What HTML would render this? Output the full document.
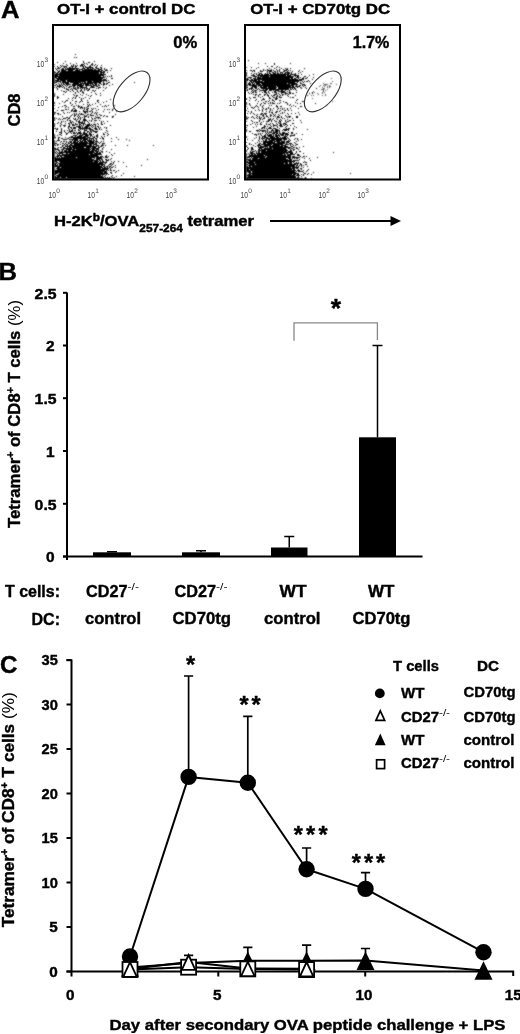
<!DOCTYPE html>
<html><head><meta charset="utf-8"><style>
html,body{margin:0;padding:0;background:#fff;width:520px;height:1034px;overflow:hidden;position:relative}
svg{filter:grayscale(100%)}
svg text{stroke:#000;stroke-width:0.4px}
svg text[font-weight=normal],svg tspan[font-weight=normal]{stroke:none}
</style></head><body>
<svg width="520" height="1034" viewBox="0 0 520 1034" style="position:absolute;left:0;top:0;font-family:&quot;Liberation Sans&quot;, sans-serif;font-weight:bold">
<defs><filter id="bl" x="-5%" y="-5%" width="110%" height="110%"><feConvolveMatrix order="3" kernelMatrix="1 2 1 2 8 2 1 2 1" divisor="20" edgeMode="none"/></filter></defs>
<text x="1" y="18" font-size="24" textLength="18.5" lengthAdjust="spacingAndGlyphs">A</text>
<text x="57" y="13.5" font-size="14" textLength="138.5" lengthAdjust="spacingAndGlyphs">OT-I + control DC</text>
<text x="250.2" y="13.5" font-size="14" textLength="140" lengthAdjust="spacingAndGlyphs">OT-I + CD70tg DC</text>
<path d="M75 54h1v1h-1zM74 57h1v1h-1zM76 57h1v1h-1zM65 61h1v1h-1zM83 61h1v1h-1zM94 61h1v1h-1zM57 62h1v1h-1zM83 62h1v1h-1zM88 62h2v1h-2zM63 63h1v1h-1zM70 63h1v1h-1zM76 63h1v1h-1zM84 63h1v1h-1zM86 63h1v1h-1zM92 63h1v1h-1zM54 64h1v1h-1zM66 64h1v1h-1zM73 64h1v1h-1zM81 64h3v1h-3zM87 64h1v1h-1zM91 64h2v1h-2zM95 64h1v1h-1zM60 65h1v1h-1zM62 65h1v1h-1zM67 65h1v1h-1zM71 65h1v1h-1zM73 65h1v1h-1zM75 65h1v1h-1zM77 65h1v1h-1zM80 65h3v1h-3zM84 65h1v1h-1zM90 65h1v1h-1zM92 65h1v1h-1zM94 65h1v1h-1zM97 65h1v1h-1zM101 65h1v1h-1zM54 66h1v1h-1zM57 66h1v1h-1zM61 66h1v1h-1zM63 66h4v1h-4zM71 66h3v1h-3zM75 66h2v1h-2zM80 66h1v1h-1zM82 66h2v1h-2zM85 66h1v1h-1zM89 66h2v1h-2zM96 66h1v1h-1zM58 67h1v1h-1zM60 67h1v1h-1zM64 67h1v1h-1zM66 67h1v1h-1zM69 67h2v1h-2zM72 67h1v1h-1zM75 67h1v1h-1zM83 67h1v1h-1zM85 67h8v1h-8zM95 67h2v1h-2zM100 67h2v1h-2zM55 68h1v1h-1zM57 68h3v1h-3zM62 68h2v1h-2zM65 68h1v1h-1zM67 68h12v1h-12zM82 68h3v1h-3zM87 68h2v1h-2zM90 68h1v1h-1zM92 68h2v1h-2zM96 68h3v1h-3zM101 68h1v1h-1zM104 68h1v1h-1zM111 68h1v1h-1zM56 69h1v1h-1zM61 69h3v1h-3zM65 69h10v1h-10zM76 69h2v1h-2zM79 69h4v1h-4zM84 69h9v1h-9zM94 69h2v1h-2zM98 69h4v1h-4zM104 69h1v1h-1zM106 69h1v1h-1zM57 70h1v1h-1zM59 70h1v1h-1zM61 70h5v1h-5zM68 70h5v1h-5zM75 70h5v1h-5zM82 70h18v1h-18zM101 70h2v1h-2zM105 70h3v1h-3zM110 70h1v1h-1zM54 71h1v1h-1zM58 71h2v1h-2zM61 71h41v1h-41zM103 71h2v1h-2zM54 72h2v1h-2zM57 72h2v1h-2zM60 72h39v1h-39zM100 72h5v1h-5zM107 72h1v1h-1zM54 73h1v1h-1zM56 73h2v1h-2zM59 73h40v1h-40zM100 73h2v1h-2zM103 73h1v1h-1zM54 74h52v1h-52zM54 75h4v1h-4zM59 75h45v1h-45zM111 75h1v1h-1zM54 76h47v1h-47zM103 76h1v1h-1zM105 76h1v1h-1zM107 76h1v1h-1zM109 76h1v1h-1zM111 76h1v1h-1zM54 77h3v1h-3zM58 77h47v1h-47zM54 78h1v1h-1zM56 78h47v1h-47zM106 78h1v1h-1zM111 78h2v1h-2zM54 79h1v1h-1zM57 79h45v1h-45zM103 79h3v1h-3zM54 80h5v1h-5zM60 80h6v1h-6zM67 80h40v1h-40zM108 80h1v1h-1zM54 81h1v1h-1zM56 81h5v1h-5zM62 81h4v1h-4zM67 81h19v1h-19zM87 81h5v1h-5zM93 81h9v1h-9zM103 81h1v1h-1zM106 81h1v1h-1zM54 82h3v1h-3zM60 82h1v1h-1zM62 82h7v1h-7zM70 82h11v1h-11zM82 82h1v1h-1zM84 82h2v1h-2zM87 82h14v1h-14zM103 82h1v1h-1zM108 82h2v1h-2zM134 82h1v1h-1zM54 83h1v1h-1zM58 83h1v1h-1zM61 83h1v1h-1zM63 83h1v1h-1zM65 83h4v1h-4zM73 83h6v1h-6zM80 83h13v1h-13zM94 83h3v1h-3zM99 83h2v1h-2zM103 83h2v1h-2zM106 83h2v1h-2zM56 84h1v1h-1zM59 84h1v1h-1zM61 84h1v1h-1zM63 84h2v1h-2zM66 84h5v1h-5zM72 84h10v1h-10zM83 84h1v1h-1zM85 84h4v1h-4zM90 84h1v1h-1zM92 84h2v1h-2zM95 84h2v1h-2zM98 84h1v1h-1zM101 84h1v1h-1zM103 84h2v1h-2zM106 84h1v1h-1zM112 84h1v1h-1zM54 85h2v1h-2zM57 85h1v1h-1zM59 85h2v1h-2zM62 85h1v1h-1zM65 85h1v1h-1zM67 85h1v1h-1zM72 85h4v1h-4zM77 85h7v1h-7zM85 85h7v1h-7zM93 85h4v1h-4zM98 85h2v1h-2zM103 85h1v1h-1zM109 85h1v1h-1zM57 86h5v1h-5zM63 86h1v1h-1zM66 86h1v1h-1zM69 86h3v1h-3zM73 86h2v1h-2zM77 86h1v1h-1zM79 86h4v1h-4zM86 86h1v1h-1zM91 86h3v1h-3zM96 86h2v1h-2zM54 87h1v1h-1zM56 87h1v1h-1zM59 87h1v1h-1zM62 87h1v1h-1zM64 87h1v1h-1zM68 87h2v1h-2zM73 87h1v1h-1zM75 87h1v1h-1zM77 87h2v1h-2zM80 87h7v1h-7zM90 87h5v1h-5zM98 87h3v1h-3zM103 87h1v1h-1zM106 87h1v1h-1zM57 88h1v1h-1zM64 88h1v1h-1zM66 88h1v1h-1zM71 88h1v1h-1zM73 88h3v1h-3zM77 88h2v1h-2zM80 88h1v1h-1zM82 88h1v1h-1zM84 88h1v1h-1zM86 88h2v1h-2zM89 88h1v1h-1zM96 88h1v1h-1zM98 88h1v1h-1zM105 88h1v1h-1zM57 89h1v1h-1zM66 89h3v1h-3zM70 89h1v1h-1zM72 89h1v1h-1zM75 89h2v1h-2zM81 89h1v1h-1zM84 89h1v1h-1zM86 89h1v1h-1zM88 89h2v1h-2zM61 90h1v1h-1zM68 90h1v1h-1zM72 90h1v1h-1zM77 90h1v1h-1zM80 90h2v1h-2zM84 90h1v1h-1zM87 90h2v1h-2zM92 90h2v1h-2zM95 90h1v1h-1zM103 90h1v1h-1zM63 91h2v1h-2zM66 91h1v1h-1zM70 91h1v1h-1zM73 91h1v1h-1zM77 91h1v1h-1zM80 91h1v1h-1zM82 91h1v1h-1zM94 91h1v1h-1zM65 92h1v1h-1zM75 92h1v1h-1zM78 92h1v1h-1zM82 92h2v1h-2zM91 92h1v1h-1zM54 93h1v1h-1zM75 93h1v1h-1zM83 93h1v1h-1zM95 93h1v1h-1zM100 93h1v1h-1zM54 94h1v1h-1zM63 94h1v1h-1zM73 94h1v1h-1zM80 94h1v1h-1zM86 94h1v1h-1zM96 94h1v1h-1zM54 95h1v1h-1zM74 95h1v1h-1zM76 95h2v1h-2zM82 95h1v1h-1zM88 95h1v1h-1zM91 95h1v1h-1zM100 95h1v1h-1zM54 96h1v1h-1zM57 96h1v1h-1zM76 96h1v1h-1zM90 96h1v1h-1zM57 97h2v1h-2zM73 97h1v1h-1zM75 97h1v1h-1zM79 97h1v1h-1zM85 97h1v1h-1zM57 98h1v1h-1zM68 98h1v1h-1zM72 98h1v1h-1zM75 98h1v1h-1zM81 98h1v1h-1zM83 98h1v1h-1zM89 98h1v1h-1zM81 99h1v1h-1zM110 99h1v1h-1zM66 100h2v1h-2zM72 100h1v1h-1zM81 100h1v1h-1zM87 100h1v1h-1zM97 100h2v1h-2zM62 101h1v1h-1zM65 101h1v1h-1zM75 101h2v1h-2zM80 101h1v1h-1zM82 101h1v1h-1zM97 101h1v1h-1zM106 101h1v1h-1zM54 102h1v1h-1zM64 102h1v1h-1zM70 102h1v1h-1zM79 102h1v1h-1zM87 102h2v1h-2zM98 102h1v1h-1zM103 102h1v1h-1zM54 103h1v1h-1zM59 103h1v1h-1zM70 103h1v1h-1zM75 103h1v1h-1zM95 103h1v1h-1zM72 104h1v1h-1zM83 104h1v1h-1zM87 104h1v1h-1zM89 104h1v1h-1zM92 104h1v1h-1zM100 104h1v1h-1zM54 105h1v1h-1zM64 105h2v1h-2zM71 105h1v1h-1zM76 105h1v1h-1zM78 105h1v1h-1zM88 105h1v1h-1zM90 105h1v1h-1zM105 105h1v1h-1zM108 105h1v1h-1zM114 105h1v1h-1zM62 106h1v1h-1zM66 106h1v1h-1zM73 106h2v1h-2zM78 106h2v1h-2zM81 106h1v1h-1zM87 106h2v1h-2zM97 106h1v1h-1zM102 106h1v1h-1zM104 106h1v1h-1zM106 106h1v1h-1zM58 107h1v1h-1zM65 107h1v1h-1zM68 107h1v1h-1zM78 107h1v1h-1zM80 107h3v1h-3zM84 107h1v1h-1zM86 107h1v1h-1zM54 108h1v1h-1zM73 108h2v1h-2zM80 108h1v1h-1zM82 108h1v1h-1zM84 108h1v1h-1zM87 108h2v1h-2zM91 108h1v1h-1zM93 108h1v1h-1zM95 108h1v1h-1zM113 108h1v1h-1zM65 109h2v1h-2zM68 109h1v1h-1zM72 109h1v1h-1zM75 109h1v1h-1zM84 109h1v1h-1zM86 109h2v1h-2zM92 109h1v1h-1zM98 109h1v1h-1zM104 109h1v1h-1zM107 109h1v1h-1zM109 109h1v1h-1zM112 109h1v1h-1zM57 110h1v1h-1zM61 110h3v1h-3zM71 110h2v1h-2zM74 110h3v1h-3zM83 110h1v1h-1zM87 110h1v1h-1zM91 110h1v1h-1zM96 110h1v1h-1zM112 110h1v1h-1zM71 111h1v1h-1zM73 111h4v1h-4zM79 111h1v1h-1zM83 111h5v1h-5zM89 111h2v1h-2zM92 111h1v1h-1zM103 111h1v1h-1zM116 111h1v1h-1zM54 112h2v1h-2zM63 112h1v1h-1zM67 112h1v1h-1zM69 112h1v1h-1zM84 112h2v1h-2zM87 112h1v1h-1zM92 112h1v1h-1zM95 112h1v1h-1zM97 112h1v1h-1zM109 112h1v1h-1zM54 113h1v1h-1zM57 113h2v1h-2zM64 113h1v1h-1zM74 113h1v1h-1zM76 113h1v1h-1zM79 113h1v1h-1zM81 113h1v1h-1zM85 113h1v1h-1zM91 113h1v1h-1zM94 113h1v1h-1zM96 113h1v1h-1zM54 114h1v1h-1zM58 114h1v1h-1zM60 114h1v1h-1zM72 114h1v1h-1zM74 114h1v1h-1zM76 114h1v1h-1zM78 114h1v1h-1zM80 114h4v1h-4zM87 114h2v1h-2zM90 114h1v1h-1zM96 114h1v1h-1zM99 114h1v1h-1zM115 114h1v1h-1zM71 115h1v1h-1zM74 115h2v1h-2zM78 115h1v1h-1zM84 115h1v1h-1zM86 115h1v1h-1zM90 115h4v1h-4zM97 115h1v1h-1zM100 115h2v1h-2zM104 115h1v1h-1zM62 116h1v1h-1zM70 116h1v1h-1zM74 116h1v1h-1zM77 116h1v1h-1zM79 116h1v1h-1zM84 116h3v1h-3zM88 116h1v1h-1zM95 116h1v1h-1zM103 116h1v1h-1zM106 116h2v1h-2zM112 116h2v1h-2zM54 117h1v1h-1zM66 117h2v1h-2zM69 117h1v1h-1zM78 117h1v1h-1zM80 117h1v1h-1zM82 117h1v1h-1zM84 117h1v1h-1zM88 117h1v1h-1zM91 117h1v1h-1zM96 117h4v1h-4zM112 117h1v1h-1zM54 118h1v1h-1zM56 118h1v1h-1zM59 118h1v1h-1zM63 118h3v1h-3zM68 118h2v1h-2zM73 118h1v1h-1zM75 118h1v1h-1zM78 118h1v1h-1zM80 118h1v1h-1zM84 118h1v1h-1zM92 118h1v1h-1zM94 118h2v1h-2zM98 118h1v1h-1zM100 118h1v1h-1zM54 119h1v1h-1zM58 119h1v1h-1zM60 119h1v1h-1zM62 119h1v1h-1zM67 119h1v1h-1zM74 119h2v1h-2zM77 119h1v1h-1zM80 119h1v1h-1zM83 119h3v1h-3zM92 119h1v1h-1zM54 120h1v1h-1zM67 120h1v1h-1zM69 120h2v1h-2zM76 120h1v1h-1zM79 120h1v1h-1zM83 120h4v1h-4zM89 120h1v1h-1zM91 120h1v1h-1zM94 120h3v1h-3zM99 120h1v1h-1zM61 121h1v1h-1zM63 121h1v1h-1zM65 121h1v1h-1zM70 121h1v1h-1zM72 121h1v1h-1zM76 121h1v1h-1zM78 121h2v1h-2zM82 121h1v1h-1zM84 121h1v1h-1zM87 121h1v1h-1zM91 121h1v1h-1zM101 121h1v1h-1zM103 121h1v1h-1zM107 121h1v1h-1zM58 122h1v1h-1zM61 122h1v1h-1zM70 122h2v1h-2zM73 122h1v1h-1zM78 122h5v1h-5zM84 122h1v1h-1zM88 122h1v1h-1zM94 122h1v1h-1zM101 122h1v1h-1zM54 123h1v1h-1zM57 123h1v1h-1zM60 123h1v1h-1zM65 123h1v1h-1zM68 123h2v1h-2zM71 123h1v1h-1zM75 123h1v1h-1zM79 123h1v1h-1zM81 123h4v1h-4zM89 123h1v1h-1zM97 123h1v1h-1zM101 123h1v1h-1zM104 123h1v1h-1zM54 124h1v1h-1zM61 124h1v1h-1zM69 124h1v1h-1zM72 124h2v1h-2zM75 124h3v1h-3zM79 124h2v1h-2zM83 124h1v1h-1zM85 124h1v1h-1zM87 124h3v1h-3zM91 124h1v1h-1zM93 124h3v1h-3zM98 124h1v1h-1zM101 124h2v1h-2zM54 125h1v1h-1zM60 125h1v1h-1zM63 125h3v1h-3zM69 125h1v1h-1zM72 125h3v1h-3zM79 125h1v1h-1zM81 125h1v1h-1zM83 125h1v1h-1zM86 125h5v1h-5zM92 125h1v1h-1zM95 125h1v1h-1zM110 125h1v1h-1zM54 126h1v1h-1zM60 126h1v1h-1zM64 126h1v1h-1zM68 126h2v1h-2zM76 126h5v1h-5zM82 126h1v1h-1zM85 126h4v1h-4zM91 126h1v1h-1zM93 126h1v1h-1zM95 126h1v1h-1zM97 126h2v1h-2zM68 127h1v1h-1zM70 127h2v1h-2zM73 127h3v1h-3zM78 127h3v1h-3zM82 127h1v1h-1zM84 127h4v1h-4zM89 127h1v1h-1zM92 127h1v1h-1zM95 127h1v1h-1zM98 127h1v1h-1zM100 127h1v1h-1zM104 127h1v1h-1zM106 127h1v1h-1zM54 128h2v1h-2zM57 128h1v1h-1zM61 128h1v1h-1zM68 128h1v1h-1zM71 128h1v1h-1zM73 128h3v1h-3zM79 128h12v1h-12zM94 128h3v1h-3zM99 128h1v1h-1zM106 128h1v1h-1zM56 129h2v1h-2zM61 129h1v1h-1zM69 129h1v1h-1zM72 129h1v1h-1zM78 129h1v1h-1zM80 129h1v1h-1zM82 129h1v1h-1zM84 129h1v1h-1zM86 129h1v1h-1zM89 129h4v1h-4zM95 129h3v1h-3zM99 129h1v1h-1zM101 129h1v1h-1zM61 130h1v1h-1zM64 130h1v1h-1zM67 130h1v1h-1zM69 130h1v1h-1zM71 130h2v1h-2zM74 130h2v1h-2zM78 130h2v1h-2zM84 130h3v1h-3zM90 130h1v1h-1zM92 130h2v1h-2zM106 130h1v1h-1zM56 131h1v1h-1zM61 131h1v1h-1zM64 131h1v1h-1zM69 131h4v1h-4zM80 131h1v1h-1zM84 131h1v1h-1zM87 131h2v1h-2zM90 131h2v1h-2zM93 131h5v1h-5zM107 131h1v1h-1zM59 132h3v1h-3zM65 132h1v1h-1zM68 132h1v1h-1zM70 132h1v1h-1zM73 132h2v1h-2zM76 132h1v1h-1zM78 132h3v1h-3zM83 132h2v1h-2zM87 132h1v1h-1zM89 132h1v1h-1zM91 132h1v1h-1zM95 132h2v1h-2zM105 132h1v1h-1zM61 133h1v1h-1zM66 133h2v1h-2zM71 133h1v1h-1zM73 133h3v1h-3zM77 133h5v1h-5zM83 133h4v1h-4zM89 133h2v1h-2zM103 133h1v1h-1zM107 133h1v1h-1zM54 134h1v1h-1zM59 134h2v1h-2zM66 134h1v1h-1zM77 134h1v1h-1zM80 134h1v1h-1zM82 134h6v1h-6zM89 134h3v1h-3zM93 134h1v1h-1zM97 134h1v1h-1zM103 134h2v1h-2zM108 134h1v1h-1zM54 135h1v1h-1zM57 135h1v1h-1zM61 135h1v1h-1zM73 135h4v1h-4zM79 135h4v1h-4zM85 135h4v1h-4zM90 135h2v1h-2zM96 135h2v1h-2zM107 135h1v1h-1zM54 136h1v1h-1zM71 136h2v1h-2zM75 136h1v1h-1zM77 136h5v1h-5zM83 136h5v1h-5zM90 136h1v1h-1zM92 136h1v1h-1zM94 136h1v1h-1zM96 136h2v1h-2zM101 136h1v1h-1zM104 136h1v1h-1zM54 137h2v1h-2zM58 137h2v1h-2zM65 137h1v1h-1zM69 137h17v1h-17zM87 137h3v1h-3zM93 137h2v1h-2zM97 137h1v1h-1zM102 137h1v1h-1zM116 137h1v1h-1zM54 138h1v1h-1zM58 138h1v1h-1zM61 138h2v1h-2zM67 138h2v1h-2zM73 138h15v1h-15zM89 138h5v1h-5zM95 138h2v1h-2zM100 138h1v1h-1zM102 138h2v1h-2zM111 138h1v1h-1zM58 139h1v1h-1zM63 139h4v1h-4zM69 139h9v1h-9zM80 139h2v1h-2zM83 139h5v1h-5zM89 139h1v1h-1zM91 139h1v1h-1zM93 139h1v1h-1zM96 139h1v1h-1zM103 139h1v1h-1zM118 139h1v1h-1zM126 139h1v1h-1zM54 140h1v1h-1zM57 140h3v1h-3zM72 140h1v1h-1zM74 140h4v1h-4zM79 140h2v1h-2zM82 140h4v1h-4zM87 140h5v1h-5zM93 140h2v1h-2zM96 140h1v1h-1zM129 140h1v1h-1zM54 141h1v1h-1zM56 141h1v1h-1zM61 141h1v1h-1zM63 141h2v1h-2zM66 141h1v1h-1zM69 141h3v1h-3zM73 141h3v1h-3zM77 141h2v1h-2zM80 141h3v1h-3zM84 141h3v1h-3zM88 141h6v1h-6zM95 141h3v1h-3zM101 141h1v1h-1zM103 141h1v1h-1zM111 141h1v1h-1zM54 142h1v1h-1zM60 142h1v1h-1zM66 142h1v1h-1zM68 142h1v1h-1zM70 142h2v1h-2zM73 142h5v1h-5zM79 142h9v1h-9zM89 142h6v1h-6zM96 142h1v1h-1zM98 142h1v1h-1zM100 142h1v1h-1zM54 143h3v1h-3zM62 143h2v1h-2zM65 143h1v1h-1zM68 143h2v1h-2zM71 143h23v1h-23zM95 143h2v1h-2zM99 143h1v1h-1zM102 143h3v1h-3zM54 144h1v1h-1zM57 144h2v1h-2zM60 144h1v1h-1zM64 144h1v1h-1zM66 144h2v1h-2zM70 144h2v1h-2zM74 144h13v1h-13zM89 144h3v1h-3zM93 144h4v1h-4zM102 144h1v1h-1zM54 145h2v1h-2zM57 145h1v1h-1zM62 145h2v1h-2zM65 145h1v1h-1zM67 145h1v1h-1zM69 145h23v1h-23zM93 145h1v1h-1zM96 145h3v1h-3zM101 145h3v1h-3zM105 145h1v1h-1zM115 145h1v1h-1zM127 145h1v1h-1zM153 145h1v1h-1zM62 146h1v1h-1zM65 146h6v1h-6zM72 146h25v1h-25zM98 146h1v1h-1zM100 146h2v1h-2zM54 147h1v1h-1zM58 147h1v1h-1zM60 147h2v1h-2zM63 147h2v1h-2zM67 147h1v1h-1zM69 147h15v1h-15zM86 147h5v1h-5zM92 147h4v1h-4zM98 147h2v1h-2zM103 147h1v1h-1zM54 148h2v1h-2zM57 148h1v1h-1zM63 148h9v1h-9zM73 148h17v1h-17zM91 148h8v1h-8zM102 148h1v1h-1zM54 149h5v1h-5zM61 149h3v1h-3zM66 149h9v1h-9zM76 149h15v1h-15zM92 149h3v1h-3zM96 149h3v1h-3zM102 149h1v1h-1zM111 149h1v1h-1zM54 150h1v1h-1zM58 150h2v1h-2zM62 150h1v1h-1zM64 150h3v1h-3zM68 150h3v1h-3zM72 150h18v1h-18zM91 150h6v1h-6zM98 150h1v1h-1zM100 150h1v1h-1zM54 151h1v1h-1zM56 151h1v1h-1zM59 151h1v1h-1zM61 151h2v1h-2zM64 151h30v1h-30zM95 151h4v1h-4zM101 151h2v1h-2zM106 151h1v1h-1zM54 152h2v1h-2zM57 152h1v1h-1zM59 152h36v1h-36zM96 152h2v1h-2zM99 152h2v1h-2zM102 152h1v1h-1zM109 152h1v1h-1zM54 153h1v1h-1zM56 153h1v1h-1zM58 153h5v1h-5zM66 153h2v1h-2zM69 153h24v1h-24zM94 153h7v1h-7zM114 153h1v1h-1zM54 154h1v1h-1zM57 154h1v1h-1zM59 154h1v1h-1zM62 154h27v1h-27zM90 154h12v1h-12zM111 154h1v1h-1zM54 155h1v1h-1zM57 155h41v1h-41zM106 155h1v1h-1zM112 155h1v1h-1zM54 156h1v1h-1zM56 156h3v1h-3zM60 156h2v1h-2zM64 156h35v1h-35zM100 156h3v1h-3zM105 156h2v1h-2zM108 156h1v1h-1zM54 157h2v1h-2zM57 157h1v1h-1zM59 157h1v1h-1zM61 157h15v1h-15zM77 157h18v1h-18zM96 157h6v1h-6zM103 157h1v1h-1zM105 157h3v1h-3zM54 158h38v1h-38zM94 158h1v1h-1zM96 158h6v1h-6zM111 158h1v1h-1zM54 159h40v1h-40zM96 159h4v1h-4zM101 159h2v1h-2zM105 159h2v1h-2zM108 159h1v1h-1zM110 159h1v1h-1zM147 159h1v1h-1zM54 160h44v1h-44zM99 160h2v1h-2zM102 160h1v1h-1zM106 160h3v1h-3zM54 161h3v1h-3zM59 161h34v1h-34zM94 161h5v1h-5zM100 161h1v1h-1zM102 161h2v1h-2zM106 161h1v1h-1zM111 161h1v1h-1zM114 161h1v1h-1zM118 161h1v1h-1zM54 162h1v1h-1zM56 162h2v1h-2zM60 162h38v1h-38zM99 162h8v1h-8zM113 162h1v1h-1zM123 162h1v1h-1zM54 163h3v1h-3zM58 163h45v1h-45zM105 163h1v1h-1zM110 163h2v1h-2zM113 163h1v1h-1zM54 164h2v1h-2zM57 164h1v1h-1zM59 164h46v1h-46zM109 164h2v1h-2zM112 164h1v1h-1zM54 165h4v1h-4zM59 165h41v1h-41zM101 165h2v1h-2zM104 165h1v1h-1zM108 165h1v1h-1zM111 165h1v1h-1zM115 165h1v1h-1zM141 165h1v1h-1zM54 166h48v1h-48zM103 166h2v1h-2zM106 166h2v1h-2zM109 166h2v1h-2zM113 166h1v1h-1zM126 166h1v1h-1zM54 167h1v1h-1zM57 167h3v1h-3zM61 167h42v1h-42zM104 167h2v1h-2zM107 167h1v1h-1zM109 167h1v1h-1zM111 167h2v1h-2zM115 167h1v1h-1zM54 168h1v1h-1zM56 168h45v1h-45zM102 168h7v1h-7zM110 168h1v1h-1zM54 169h1v1h-1zM57 169h51v1h-51zM110 169h1v1h-1zM54 170h51v1h-51zM106 170h1v1h-1zM108 170h1v1h-1zM110 170h2v1h-2zM113 170h2v1h-2zM118 170h1v1h-1zM54 171h53v1h-53zM116 171h1v1h-1zM54 172h49v1h-49zM104 172h3v1h-3zM110 172h2v1h-2zM115 172h1v1h-1zM54 173h4v1h-4zM59 173h49v1h-49zM111 173h1v1h-1zM123 173h1v1h-1zM54 174h2v1h-2zM58 174h47v1h-47zM106 174h1v1h-1zM108 174h1v1h-1zM54 175h1v1h-1zM56 175h45v1h-45zM102 175h1v1h-1zM105 175h1v1h-1zM112 175h1v1h-1zM121 175h1v1h-1zM54 176h2v1h-2zM57 176h46v1h-46zM104 176h1v1h-1zM111 176h1v1h-1zM116 176h1v1h-1zM134 176h1v1h-1zM54 177h6v1h-6zM61 177h5v1h-5zM67 177h37v1h-37zM105 177h1v1h-1zM107 177h1v1h-1zM109 177h1v1h-1zM112 177h1v1h-1zM114 177h1v1h-1zM54 178h58v1h-58zM113 178h1v1h-1z" fill="#000" filter="url(#bl)"/>
<rect x="53" y="25" width="155" height="154.5" fill="none" stroke="#000" stroke-width="2"/>
<ellipse cx="131.6" cy="91.4" rx="24.4" ry="12.6" transform="rotate(-50 131.6 91.4)" fill="none" stroke="#333" stroke-width="1.1"/>
<path d="M248 60h1v1h-1zM258 63h1v1h-1zM265 63h1v1h-1zM274 63h1v1h-1zM290 63h1v1h-1zM274 64h1v1h-1zM267 66h1v1h-1zM271 66h2v1h-2zM277 66h1v1h-1zM246 67h1v1h-1zM251 67h1v1h-1zM258 67h1v1h-1zM276 67h1v1h-1zM279 67h1v1h-1zM256 68h1v1h-1zM269 68h1v1h-1zM274 68h1v1h-1zM281 68h1v1h-1zM285 68h1v1h-1zM287 68h1v1h-1zM290 68h1v1h-1zM304 68h1v1h-1zM263 69h1v1h-1zM267 69h1v1h-1zM271 69h1v1h-1zM276 69h1v1h-1zM279 69h1v1h-1zM283 69h1v1h-1zM286 69h2v1h-2zM246 70h1v1h-1zM250 70h2v1h-2zM253 70h2v1h-2zM260 70h1v1h-1zM263 70h1v1h-1zM265 70h1v1h-1zM267 70h5v1h-5zM273 70h1v1h-1zM277 70h1v1h-1zM279 70h1v1h-1zM284 70h3v1h-3zM288 70h1v1h-1zM290 70h1v1h-1zM299 70h1v1h-1zM252 71h1v1h-1zM254 71h1v1h-1zM260 71h3v1h-3zM267 71h1v1h-1zM269 71h3v1h-3zM274 71h2v1h-2zM277 71h1v1h-1zM279 71h1v1h-1zM283 71h2v1h-2zM287 71h1v1h-1zM292 71h1v1h-1zM298 71h1v1h-1zM302 71h1v1h-1zM246 72h1v1h-1zM258 72h1v1h-1zM267 72h1v1h-1zM269 72h1v1h-1zM272 72h2v1h-2zM275 72h1v1h-1zM277 72h1v1h-1zM280 72h3v1h-3zM285 72h5v1h-5zM291 72h1v1h-1zM300 72h1v1h-1zM246 73h1v1h-1zM251 73h1v1h-1zM254 73h1v1h-1zM256 73h1v1h-1zM259 73h3v1h-3zM265 73h1v1h-1zM267 73h1v1h-1zM269 73h2v1h-2zM273 73h3v1h-3zM277 73h2v1h-2zM280 73h1v1h-1zM282 73h1v1h-1zM284 73h2v1h-2zM287 73h3v1h-3zM291 73h1v1h-1zM295 73h1v1h-1zM298 73h1v1h-1zM246 74h1v1h-1zM253 74h1v1h-1zM256 74h1v1h-1zM258 74h2v1h-2zM261 74h2v1h-2zM264 74h5v1h-5zM270 74h19v1h-19zM290 74h6v1h-6zM301 74h1v1h-1zM313 74h1v1h-1zM246 75h1v1h-1zM251 75h4v1h-4zM257 75h29v1h-29zM287 75h4v1h-4zM294 75h5v1h-5zM309 75h1v1h-1zM246 76h1v1h-1zM253 76h4v1h-4zM258 76h1v1h-1zM260 76h9v1h-9zM270 76h24v1h-24zM295 76h1v1h-1zM297 76h2v1h-2zM304 76h2v1h-2zM248 77h4v1h-4zM255 77h1v1h-1zM257 77h4v1h-4zM262 77h31v1h-31zM296 77h3v1h-3zM300 77h1v1h-1zM303 77h1v1h-1zM307 77h1v1h-1zM313 77h1v1h-1zM246 78h2v1h-2zM250 78h1v1h-1zM253 78h3v1h-3zM257 78h33v1h-33zM291 78h2v1h-2zM294 78h2v1h-2zM298 78h1v1h-1zM302 78h2v1h-2zM305 78h2v1h-2zM246 79h3v1h-3zM251 79h2v1h-2zM254 79h44v1h-44zM299 79h5v1h-5zM312 79h1v1h-1zM246 80h2v1h-2zM249 80h8v1h-8zM258 80h2v1h-2zM262 80h40v1h-40zM308 80h1v1h-1zM246 81h1v1h-1zM250 81h2v1h-2zM253 81h10v1h-10zM264 81h35v1h-35zM302 81h1v1h-1zM304 81h1v1h-1zM306 81h2v1h-2zM309 81h1v1h-1zM246 82h1v1h-1zM249 82h1v1h-1zM251 82h3v1h-3zM255 82h40v1h-40zM297 82h1v1h-1zM300 82h1v1h-1zM303 82h1v1h-1zM246 83h1v1h-1zM248 83h3v1h-3zM252 83h1v1h-1zM254 83h1v1h-1zM256 83h4v1h-4zM261 83h26v1h-26zM288 83h9v1h-9zM300 83h2v1h-2zM310 83h1v1h-1zM246 84h1v1h-1zM248 84h3v1h-3zM252 84h3v1h-3zM256 84h5v1h-5zM262 84h28v1h-28zM291 84h7v1h-7zM302 84h3v1h-3zM246 85h2v1h-2zM249 85h8v1h-8zM258 85h36v1h-36zM296 85h1v1h-1zM299 85h2v1h-2zM302 85h1v1h-1zM304 85h2v1h-2zM246 86h1v1h-1zM252 86h5v1h-5zM258 86h1v1h-1zM260 86h2v1h-2zM263 86h13v1h-13zM277 86h14v1h-14zM292 86h2v1h-2zM295 86h5v1h-5zM303 86h1v1h-1zM246 87h2v1h-2zM251 87h2v1h-2zM254 87h3v1h-3zM260 87h7v1h-7zM268 87h9v1h-9zM278 87h17v1h-17zM297 87h1v1h-1zM300 87h1v1h-1zM305 87h1v1h-1zM246 88h1v1h-1zM249 88h4v1h-4zM255 88h2v1h-2zM258 88h1v1h-1zM261 88h15v1h-15zM278 88h11v1h-11zM290 88h1v1h-1zM292 88h1v1h-1zM294 88h2v1h-2zM301 88h1v1h-1zM306 88h1v1h-1zM316 88h1v1h-1zM247 89h1v1h-1zM249 89h1v1h-1zM251 89h1v1h-1zM253 89h1v1h-1zM257 89h1v1h-1zM259 89h1v1h-1zM263 89h1v1h-1zM265 89h3v1h-3zM269 89h20v1h-20zM290 89h2v1h-2zM293 89h1v1h-1zM295 89h1v1h-1zM246 90h2v1h-2zM252 90h1v1h-1zM254 90h3v1h-3zM260 90h7v1h-7zM269 90h3v1h-3zM273 90h1v1h-1zM275 90h4v1h-4zM281 90h2v1h-2zM285 90h1v1h-1zM289 90h1v1h-1zM296 90h1v1h-1zM251 91h1v1h-1zM253 91h1v1h-1zM255 91h1v1h-1zM259 91h1v1h-1zM264 91h2v1h-2zM268 91h1v1h-1zM274 91h2v1h-2zM278 91h7v1h-7zM287 91h1v1h-1zM289 91h1v1h-1zM248 92h1v1h-1zM252 92h2v1h-2zM255 92h2v1h-2zM262 92h1v1h-1zM264 92h3v1h-3zM268 92h1v1h-1zM272 92h1v1h-1zM274 92h3v1h-3zM281 92h5v1h-5zM289 92h2v1h-2zM296 92h1v1h-1zM312 92h1v1h-1zM249 93h1v1h-1zM251 93h1v1h-1zM266 93h1v1h-1zM269 93h1v1h-1zM276 93h1v1h-1zM278 93h1v1h-1zM281 93h1v1h-1zM285 93h3v1h-3zM289 93h2v1h-2zM292 93h2v1h-2zM309 93h1v1h-1zM312 93h1v1h-1zM253 94h1v1h-1zM255 94h2v1h-2zM259 94h2v1h-2zM264 94h2v1h-2zM267 94h1v1h-1zM274 94h3v1h-3zM279 94h1v1h-1zM282 94h2v1h-2zM285 94h1v1h-1zM288 94h1v1h-1zM255 95h1v1h-1zM258 95h1v1h-1zM264 95h1v1h-1zM267 95h2v1h-2zM271 95h1v1h-1zM273 95h2v1h-2zM277 95h1v1h-1zM280 95h1v1h-1zM282 95h1v1h-1zM287 95h1v1h-1zM295 95h1v1h-1zM307 95h1v1h-1zM258 96h1v1h-1zM262 96h1v1h-1zM268 96h1v1h-1zM272 96h1v1h-1zM276 96h2v1h-2zM279 96h1v1h-1zM288 96h1v1h-1zM249 97h1v1h-1zM253 97h3v1h-3zM260 97h1v1h-1zM269 97h1v1h-1zM273 97h2v1h-2zM276 97h1v1h-1zM279 97h3v1h-3zM290 97h1v1h-1zM292 97h2v1h-2zM246 98h1v1h-1zM250 98h1v1h-1zM263 98h1v1h-1zM269 98h2v1h-2zM275 98h3v1h-3zM246 99h1v1h-1zM256 99h1v1h-1zM262 99h3v1h-3zM272 99h1v1h-1zM275 99h2v1h-2zM297 99h1v1h-1zM249 100h1v1h-1zM255 100h1v1h-1zM261 100h1v1h-1zM269 100h1v1h-1zM272 100h2v1h-2zM279 100h2v1h-2zM296 100h1v1h-1zM258 101h1v1h-1zM265 101h2v1h-2zM268 101h1v1h-1zM274 101h1v1h-1zM283 101h1v1h-1zM302 101h2v1h-2zM246 102h1v1h-1zM263 102h1v1h-1zM270 102h1v1h-1zM272 102h1v1h-1zM280 102h1v1h-1zM285 102h2v1h-2zM295 102h1v1h-1zM246 103h1v1h-1zM249 103h1v1h-1zM257 103h1v1h-1zM261 103h1v1h-1zM264 103h2v1h-2zM268 103h1v1h-1zM270 103h1v1h-1zM272 103h3v1h-3zM277 103h1v1h-1zM279 103h1v1h-1zM287 103h1v1h-1zM297 103h1v1h-1zM300 103h1v1h-1zM315 103h1v1h-1zM246 104h1v1h-1zM249 104h1v1h-1zM260 104h1v1h-1zM287 104h1v1h-1zM290 104h1v1h-1zM250 105h1v1h-1zM256 105h1v1h-1zM260 105h1v1h-1zM263 105h1v1h-1zM269 105h1v1h-1zM271 105h1v1h-1zM276 105h1v1h-1zM289 105h1v1h-1zM293 105h1v1h-1zM246 106h1v1h-1zM255 106h1v1h-1zM257 106h1v1h-1zM262 106h1v1h-1zM276 106h2v1h-2zM280 106h2v1h-2zM291 106h1v1h-1zM295 106h1v1h-1zM300 106h2v1h-2zM251 107h2v1h-2zM254 107h1v1h-1zM258 107h1v1h-1zM262 107h1v1h-1zM268 107h1v1h-1zM277 107h1v1h-1zM247 108h1v1h-1zM253 108h1v1h-1zM263 108h1v1h-1zM266 108h1v1h-1zM268 108h1v1h-1zM270 108h1v1h-1zM273 108h1v1h-1zM278 108h1v1h-1zM280 108h1v1h-1zM282 108h1v1h-1zM284 108h1v1h-1zM287 108h1v1h-1zM290 108h1v1h-1zM298 108h1v1h-1zM258 109h1v1h-1zM262 109h1v1h-1zM265 109h2v1h-2zM270 109h1v1h-1zM277 109h1v1h-1zM282 109h1v1h-1zM287 109h1v1h-1zM246 110h1v1h-1zM255 110h1v1h-1zM259 110h1v1h-1zM262 110h1v1h-1zM270 110h1v1h-1zM272 110h1v1h-1zM280 110h1v1h-1zM284 110h2v1h-2zM288 110h1v1h-1zM291 110h1v1h-1zM248 111h1v1h-1zM251 111h1v1h-1zM262 111h1v1h-1zM266 111h1v1h-1zM269 111h1v1h-1zM276 111h2v1h-2zM279 111h1v1h-1zM251 112h1v1h-1zM269 112h1v1h-1zM271 112h2v1h-2zM275 112h2v1h-2zM282 112h1v1h-1zM284 112h1v1h-1zM298 112h1v1h-1zM247 113h1v1h-1zM250 113h1v1h-1zM253 113h1v1h-1zM261 113h2v1h-2zM264 113h3v1h-3zM272 113h1v1h-1zM280 113h1v1h-1zM282 113h1v1h-1zM287 113h1v1h-1zM291 113h1v1h-1zM295 113h1v1h-1zM254 114h1v1h-1zM257 114h1v1h-1zM260 114h2v1h-2zM263 114h1v1h-1zM265 114h1v1h-1zM270 114h1v1h-1zM273 114h1v1h-1zM275 114h1v1h-1zM278 114h1v1h-1zM288 114h1v1h-1zM299 114h1v1h-1zM256 115h1v1h-1zM262 115h2v1h-2zM266 115h1v1h-1zM270 115h2v1h-2zM274 115h1v1h-1zM279 115h1v1h-1zM285 115h1v1h-1zM246 116h1v1h-1zM252 116h1v1h-1zM257 116h1v1h-1zM259 116h1v1h-1zM263 116h1v1h-1zM266 116h2v1h-2zM270 116h1v1h-1zM273 116h1v1h-1zM275 116h1v1h-1zM277 116h2v1h-2zM281 116h1v1h-1zM286 116h1v1h-1zM288 116h3v1h-3zM296 116h2v1h-2zM246 117h1v1h-1zM248 117h1v1h-1zM251 117h1v1h-1zM253 117h1v1h-1zM256 117h1v1h-1zM259 117h1v1h-1zM261 117h1v1h-1zM264 117h1v1h-1zM268 117h1v1h-1zM277 117h3v1h-3zM281 117h1v1h-1zM287 117h1v1h-1zM289 117h1v1h-1zM296 117h2v1h-2zM246 118h2v1h-2zM254 118h1v1h-1zM257 118h1v1h-1zM259 118h2v1h-2zM263 118h2v1h-2zM270 118h1v1h-1zM273 118h1v1h-1zM276 118h1v1h-1zM282 118h1v1h-1zM284 118h1v1h-1zM292 118h1v1h-1zM246 119h1v1h-1zM260 119h1v1h-1zM262 119h1v1h-1zM268 119h3v1h-3zM272 119h1v1h-1zM277 119h1v1h-1zM280 119h1v1h-1zM287 119h1v1h-1zM251 120h1v1h-1zM259 120h1v1h-1zM268 120h2v1h-2zM271 120h1v1h-1zM274 120h1v1h-1zM279 120h1v1h-1zM281 120h1v1h-1zM285 120h1v1h-1zM289 120h2v1h-2zM293 120h1v1h-1zM300 120h1v1h-1zM246 121h1v1h-1zM252 121h1v1h-1zM259 121h1v1h-1zM263 121h1v1h-1zM266 121h3v1h-3zM271 121h1v1h-1zM275 121h2v1h-2zM279 121h2v1h-2zM285 121h1v1h-1zM287 121h2v1h-2zM254 122h1v1h-1zM256 122h2v1h-2zM261 122h1v1h-1zM278 122h1v1h-1zM280 122h1v1h-1zM286 122h1v1h-1zM301 122h1v1h-1zM252 123h1v1h-1zM260 123h1v1h-1zM266 123h1v1h-1zM270 123h1v1h-1zM272 123h1v1h-1zM276 123h1v1h-1zM279 123h2v1h-2zM283 123h3v1h-3zM292 123h2v1h-2zM250 124h1v1h-1zM255 124h1v1h-1zM257 124h1v1h-1zM260 124h2v1h-2zM266 124h1v1h-1zM268 124h2v1h-2zM273 124h1v1h-1zM277 124h1v1h-1zM280 124h2v1h-2zM283 124h1v1h-1zM285 124h2v1h-2zM246 125h2v1h-2zM264 125h1v1h-1zM270 125h1v1h-1zM273 125h4v1h-4zM279 125h3v1h-3zM284 125h1v1h-1zM287 125h1v1h-1zM290 125h1v1h-1zM256 126h1v1h-1zM264 126h2v1h-2zM267 126h1v1h-1zM271 126h1v1h-1zM273 126h1v1h-1zM277 126h1v1h-1zM280 126h3v1h-3zM286 126h1v1h-1zM294 126h1v1h-1zM246 127h1v1h-1zM253 127h1v1h-1zM262 127h3v1h-3zM269 127h2v1h-2zM277 127h1v1h-1zM285 127h1v1h-1zM296 127h1v1h-1zM261 128h2v1h-2zM264 128h1v1h-1zM266 128h1v1h-1zM268 128h4v1h-4zM273 128h3v1h-3zM279 128h1v1h-1zM286 128h1v1h-1zM288 128h2v1h-2zM293 128h1v1h-1zM246 129h1v1h-1zM259 129h1v1h-1zM267 129h1v1h-1zM272 129h1v1h-1zM275 129h3v1h-3zM283 129h6v1h-6zM293 129h1v1h-1zM307 129h1v1h-1zM246 130h1v1h-1zM256 130h3v1h-3zM260 130h6v1h-6zM267 130h1v1h-1zM271 130h3v1h-3zM275 130h5v1h-5zM282 130h1v1h-1zM284 130h3v1h-3zM288 130h1v1h-1zM246 131h1v1h-1zM249 131h2v1h-2zM257 131h1v1h-1zM259 131h1v1h-1zM262 131h2v1h-2zM265 131h1v1h-1zM267 131h1v1h-1zM269 131h1v1h-1zM271 131h1v1h-1zM273 131h1v1h-1zM275 131h3v1h-3zM279 131h1v1h-1zM265 132h1v1h-1zM267 132h1v1h-1zM269 132h3v1h-3zM273 132h5v1h-5zM279 132h1v1h-1zM282 132h3v1h-3zM288 132h1v1h-1zM291 132h2v1h-2zM252 133h1v1h-1zM258 133h1v1h-1zM260 133h1v1h-1zM262 133h1v1h-1zM266 133h1v1h-1zM268 133h1v1h-1zM272 133h3v1h-3zM276 133h2v1h-2zM279 133h2v1h-2zM282 133h6v1h-6zM291 133h2v1h-2zM296 133h1v1h-1zM254 134h3v1h-3zM258 134h1v1h-1zM260 134h1v1h-1zM265 134h1v1h-1zM267 134h1v1h-1zM269 134h3v1h-3zM273 134h1v1h-1zM275 134h2v1h-2zM278 134h1v1h-1zM280 134h4v1h-4zM285 134h4v1h-4zM294 134h1v1h-1zM302 134h1v1h-1zM256 135h1v1h-1zM261 135h1v1h-1zM264 135h2v1h-2zM267 135h5v1h-5zM273 135h1v1h-1zM275 135h5v1h-5zM281 135h3v1h-3zM285 135h1v1h-1zM287 135h1v1h-1zM290 135h5v1h-5zM246 136h1v1h-1zM259 136h1v1h-1zM262 136h4v1h-4zM268 136h6v1h-6zM275 136h3v1h-3zM279 136h1v1h-1zM284 136h3v1h-3zM290 136h1v1h-1zM246 137h1v1h-1zM256 137h1v1h-1zM259 137h1v1h-1zM262 137h1v1h-1zM264 137h4v1h-4zM270 137h5v1h-5zM276 137h3v1h-3zM280 137h1v1h-1zM282 137h4v1h-4zM287 137h1v1h-1zM254 138h1v1h-1zM259 138h1v1h-1zM261 138h4v1h-4zM266 138h21v1h-21zM288 138h1v1h-1zM295 138h1v1h-1zM297 138h1v1h-1zM247 139h1v1h-1zM259 139h1v1h-1zM262 139h1v1h-1zM265 139h2v1h-2zM268 139h2v1h-2zM271 139h11v1h-11zM283 139h4v1h-4zM289 139h1v1h-1zM294 139h1v1h-1zM297 139h1v1h-1zM301 139h1v1h-1zM252 140h1v1h-1zM258 140h1v1h-1zM263 140h1v1h-1zM265 140h2v1h-2zM269 140h6v1h-6zM276 140h6v1h-6zM284 140h1v1h-1zM288 140h1v1h-1zM290 140h1v1h-1zM298 140h1v1h-1zM259 141h1v1h-1zM261 141h1v1h-1zM263 141h10v1h-10zM274 141h6v1h-6zM281 141h4v1h-4zM286 141h4v1h-4zM296 141h1v1h-1zM246 142h1v1h-1zM257 142h1v1h-1zM263 142h12v1h-12zM277 142h8v1h-8zM286 142h3v1h-3zM294 142h1v1h-1zM249 143h1v1h-1zM255 143h1v1h-1zM259 143h2v1h-2zM263 143h3v1h-3zM267 143h18v1h-18zM286 143h1v1h-1zM289 143h3v1h-3zM295 143h1v1h-1zM249 144h1v1h-1zM251 144h1v1h-1zM258 144h2v1h-2zM261 144h11v1h-11zM273 144h10v1h-10zM285 144h4v1h-4zM290 144h1v1h-1zM292 144h1v1h-1zM296 144h2v1h-2zM246 145h1v1h-1zM253 145h1v1h-1zM257 145h4v1h-4zM264 145h7v1h-7zM272 145h8v1h-8zM281 145h5v1h-5zM290 145h1v1h-1zM293 145h1v1h-1zM295 145h1v1h-1zM246 146h1v1h-1zM255 146h1v1h-1zM258 146h1v1h-1zM260 146h8v1h-8zM269 146h14v1h-14zM284 146h4v1h-4zM291 146h2v1h-2zM303 146h1v1h-1zM247 147h1v1h-1zM251 147h2v1h-2zM258 147h6v1h-6zM265 147h1v1h-1zM267 147h1v1h-1zM269 147h22v1h-22zM293 147h2v1h-2zM296 147h1v1h-1zM299 147h1v1h-1zM248 148h1v1h-1zM251 148h2v1h-2zM259 148h3v1h-3zM264 148h8v1h-8zM273 148h13v1h-13zM288 148h2v1h-2zM291 148h2v1h-2zM296 148h2v1h-2zM247 149h1v1h-1zM251 149h3v1h-3zM258 149h2v1h-2zM261 149h26v1h-26zM290 149h1v1h-1zM293 149h2v1h-2zM298 149h1v1h-1zM246 150h1v1h-1zM251 150h1v1h-1zM255 150h1v1h-1zM258 150h8v1h-8zM267 150h21v1h-21zM290 150h2v1h-2zM293 150h1v1h-1zM246 151h1v1h-1zM250 151h1v1h-1zM252 151h3v1h-3zM256 151h1v1h-1zM258 151h2v1h-2zM261 151h26v1h-26zM288 151h4v1h-4zM296 151h1v1h-1zM299 151h2v1h-2zM250 152h3v1h-3zM256 152h1v1h-1zM258 152h2v1h-2zM261 152h32v1h-32zM296 152h1v1h-1zM333 152h1v1h-1zM246 153h1v1h-1zM248 153h1v1h-1zM250 153h5v1h-5zM256 153h29v1h-29zM286 153h2v1h-2zM290 153h3v1h-3zM295 153h1v1h-1zM303 153h1v1h-1zM246 154h1v1h-1zM249 154h1v1h-1zM251 154h2v1h-2zM254 154h2v1h-2zM257 154h26v1h-26zM284 154h2v1h-2zM287 154h8v1h-8zM297 154h2v1h-2zM246 155h1v1h-1zM249 155h15v1h-15zM265 155h21v1h-21zM287 155h4v1h-4zM297 155h3v1h-3zM246 156h1v1h-1zM248 156h18v1h-18zM267 156h24v1h-24zM292 156h3v1h-3zM300 156h1v1h-1zM303 156h2v1h-2zM306 156h1v1h-1zM246 157h4v1h-4zM251 157h1v1h-1zM253 157h12v1h-12zM266 157h25v1h-25zM292 157h8v1h-8zM302 157h1v1h-1zM317 157h1v1h-1zM246 158h1v1h-1zM250 158h1v1h-1zM252 158h6v1h-6zM259 158h27v1h-27zM288 158h3v1h-3zM292 158h1v1h-1zM294 158h1v1h-1zM296 158h2v1h-2zM304 158h1v1h-1zM309 158h1v1h-1zM246 159h5v1h-5zM252 159h36v1h-36zM289 159h3v1h-3zM299 159h1v1h-1zM246 160h1v1h-1zM248 160h44v1h-44zM293 160h6v1h-6zM310 160h1v1h-1zM246 161h2v1h-2zM249 161h46v1h-46zM304 161h1v1h-1zM246 162h8v1h-8zM255 162h33v1h-33zM289 162h3v1h-3zM293 162h1v1h-1zM296 162h1v1h-1zM298 162h1v1h-1zM303 162h1v1h-1zM305 162h2v1h-2zM246 163h1v1h-1zM248 163h36v1h-36zM285 163h3v1h-3zM289 163h3v1h-3zM294 163h5v1h-5zM300 163h1v1h-1zM246 164h2v1h-2zM249 164h6v1h-6zM256 164h40v1h-40zM297 164h1v1h-1zM300 164h2v1h-2zM305 164h2v1h-2zM246 165h1v1h-1zM248 165h47v1h-47zM296 165h2v1h-2zM299 165h1v1h-1zM301 165h1v1h-1zM303 165h1v1h-1zM246 166h2v1h-2zM249 166h2v1h-2zM252 166h43v1h-43zM296 166h1v1h-1zM298 166h1v1h-1zM301 166h1v1h-1zM307 166h1v1h-1zM246 167h45v1h-45zM292 167h7v1h-7zM303 167h1v1h-1zM246 168h49v1h-49zM296 168h2v1h-2zM300 168h2v1h-2zM246 169h3v1h-3zM250 169h42v1h-42zM293 169h2v1h-2zM298 169h1v1h-1zM301 169h1v1h-1zM308 169h1v1h-1zM246 170h50v1h-50zM297 170h3v1h-3zM303 170h1v1h-1zM307 170h1v1h-1zM246 171h5v1h-5zM252 171h43v1h-43zM296 171h1v1h-1zM298 171h5v1h-5zM306 171h1v1h-1zM246 172h1v1h-1zM248 172h3v1h-3zM252 172h44v1h-44zM303 172h1v1h-1zM313 172h1v1h-1zM246 173h1v1h-1zM249 173h50v1h-50zM304 173h2v1h-2zM308 173h1v1h-1zM350 173h1v1h-1zM246 174h1v1h-1zM248 174h3v1h-3zM252 174h40v1h-40zM293 174h3v1h-3zM297 174h2v1h-2zM301 174h1v1h-1zM303 174h1v1h-1zM307 174h1v1h-1zM311 174h1v1h-1zM246 175h49v1h-49zM296 175h4v1h-4zM303 175h1v1h-1zM246 176h1v1h-1zM248 176h48v1h-48zM298 176h1v1h-1zM301 176h1v1h-1zM246 177h50v1h-50zM297 177h2v1h-2zM305 177h1v1h-1zM246 178h57v1h-57zM304 178h3v1h-3zM311 178h1v1h-1z" fill="#000" filter="url(#bl)"/>
<path d="M331 78h1v1h-1zM332 81h1v1h-1zM323 83h1v1h-1zM330 83h2v1h-2zM324 84h4v1h-4zM336 84h1v1h-1zM320 85h1v1h-1zM323 85h1v1h-1zM325 85h1v1h-1zM329 85h1v1h-1zM319 86h1v1h-1zM324 86h1v1h-1zM327 86h1v1h-1zM329 86h2v1h-2zM301 87h1v1h-1zM322 87h1v1h-1zM327 87h1v1h-1zM329 87h1v1h-1zM323 88h2v1h-2zM321 89h3v1h-3zM327 89h1v1h-1zM323 90h1v1h-1zM325 90h1v1h-1zM313 91h1v1h-1zM323 91h1v1h-1zM314 92h1v1h-1zM322 92h1v1h-1zM324 92h1v1h-1zM317 93h1v1h-1zM322 93h1v1h-1zM318 94h1v1h-1zM325 94h1v1h-1zM311 95h1v1h-1zM313 95h1v1h-1zM322 95h1v1h-1zM325 95h1v1h-1zM312 98h1v1h-1zM332 101h1v1h-1zM326 105h1v1h-1z" fill="#555" filter="url(#bl)"/>
<rect x="245" y="25" width="155" height="154.5" fill="none" stroke="#000" stroke-width="2"/>
<ellipse cx="322.8" cy="91.4" rx="24.4" ry="12.6" transform="rotate(-50 322.8 91.4)" fill="none" stroke="#333" stroke-width="1.1"/>
<text x="173.3" y="48.3" font-size="16" textLength="24" lengthAdjust="spacingAndGlyphs">0%</text>
<text x="352.8" y="48.3" font-size="16" textLength="36.5" lengthAdjust="spacingAndGlyphs">1.7%</text>
<text x="36.7" y="183.5" font-size="8.5" font-weight="normal" fill="#444" textLength="7.5" lengthAdjust="spacingAndGlyphs">10</text>
<text x="44.5" y="179.2" font-size="6.5" font-weight="normal" fill="#444" text-rendering="geometricPrecision">0</text>
<text x="48.5" y="197.5" font-size="8.5" font-weight="normal" fill="#444" textLength="7.5" lengthAdjust="spacingAndGlyphs">10</text>
<text x="56.3" y="193.2" font-size="6.5" font-weight="normal" fill="#444" text-rendering="geometricPrecision">0</text>
<text x="36.7" y="144.5" font-size="8.5" font-weight="normal" fill="#444" textLength="7.5" lengthAdjust="spacingAndGlyphs">10</text>
<text x="44.5" y="140.2" font-size="6.5" font-weight="normal" fill="#444" text-rendering="geometricPrecision">1</text>
<text x="87.5" y="197.5" font-size="8.5" font-weight="normal" fill="#444" textLength="7.5" lengthAdjust="spacingAndGlyphs">10</text>
<text x="95.3" y="193.2" font-size="6.5" font-weight="normal" fill="#444" text-rendering="geometricPrecision">1</text>
<text x="36.7" y="105.5" font-size="8.5" font-weight="normal" fill="#444" textLength="7.5" lengthAdjust="spacingAndGlyphs">10</text>
<text x="44.5" y="101.2" font-size="6.5" font-weight="normal" fill="#444" text-rendering="geometricPrecision">2</text>
<text x="126.5" y="197.5" font-size="8.5" font-weight="normal" fill="#444" textLength="7.5" lengthAdjust="spacingAndGlyphs">10</text>
<text x="134.3" y="193.2" font-size="6.5" font-weight="normal" fill="#444" text-rendering="geometricPrecision">2</text>
<text x="36.7" y="66.5" font-size="8.5" font-weight="normal" fill="#444" textLength="7.5" lengthAdjust="spacingAndGlyphs">10</text>
<text x="44.5" y="62.2" font-size="6.5" font-weight="normal" fill="#444" text-rendering="geometricPrecision">3</text>
<text x="165.5" y="197.5" font-size="8.5" font-weight="normal" fill="#444" textLength="7.5" lengthAdjust="spacingAndGlyphs">10</text>
<text x="173.3" y="193.2" font-size="6.5" font-weight="normal" fill="#444" text-rendering="geometricPrecision">3</text>
<text x="228.7" y="183.5" font-size="8.5" font-weight="normal" fill="#444" textLength="7.5" lengthAdjust="spacingAndGlyphs">10</text>
<text x="236.5" y="179.2" font-size="6.5" font-weight="normal" fill="#444" text-rendering="geometricPrecision">0</text>
<text x="240.5" y="197.5" font-size="8.5" font-weight="normal" fill="#444" textLength="7.5" lengthAdjust="spacingAndGlyphs">10</text>
<text x="248.3" y="193.2" font-size="6.5" font-weight="normal" fill="#444" text-rendering="geometricPrecision">0</text>
<text x="228.7" y="144.5" font-size="8.5" font-weight="normal" fill="#444" textLength="7.5" lengthAdjust="spacingAndGlyphs">10</text>
<text x="236.5" y="140.2" font-size="6.5" font-weight="normal" fill="#444" text-rendering="geometricPrecision">1</text>
<text x="279.5" y="197.5" font-size="8.5" font-weight="normal" fill="#444" textLength="7.5" lengthAdjust="spacingAndGlyphs">10</text>
<text x="287.3" y="193.2" font-size="6.5" font-weight="normal" fill="#444" text-rendering="geometricPrecision">1</text>
<text x="228.7" y="105.5" font-size="8.5" font-weight="normal" fill="#444" textLength="7.5" lengthAdjust="spacingAndGlyphs">10</text>
<text x="236.5" y="101.2" font-size="6.5" font-weight="normal" fill="#444" text-rendering="geometricPrecision">2</text>
<text x="318.5" y="197.5" font-size="8.5" font-weight="normal" fill="#444" textLength="7.5" lengthAdjust="spacingAndGlyphs">10</text>
<text x="326.3" y="193.2" font-size="6.5" font-weight="normal" fill="#444" text-rendering="geometricPrecision">2</text>
<text x="228.7" y="66.5" font-size="8.5" font-weight="normal" fill="#444" textLength="7.5" lengthAdjust="spacingAndGlyphs">10</text>
<text x="236.5" y="62.2" font-size="6.5" font-weight="normal" fill="#444" text-rendering="geometricPrecision">3</text>
<text x="357.5" y="197.5" font-size="8.5" font-weight="normal" fill="#444" textLength="7.5" lengthAdjust="spacingAndGlyphs">10</text>
<text x="365.3" y="193.2" font-size="6.5" font-weight="normal" fill="#444" text-rendering="geometricPrecision">3</text>
<text x="0" y="0" font-size="16" transform="translate(20,110) rotate(-90)" text-anchor="middle" textLength="33" lengthAdjust="spacingAndGlyphs">CD8</text>
<text x="54" y="226" font-size="14" textLength="200" lengthAdjust="spacingAndGlyphs">H-2K<tspan dy="-5" font-size="10">b</tspan><tspan dy="5">/OVA</tspan><tspan dy="6" font-size="10">257-264</tspan><tspan dy="-6"> tetramer</tspan></text>
<path d="M270 221H392" stroke="#000" stroke-width="2"/>
<path d="M390.5 216L401 221L390.5 226Z" fill="#000"/>
<text x="-1.5" y="279.5" font-size="24" textLength="18.5" lengthAdjust="spacingAndGlyphs">B</text>
<path d="M67 292.5V560M63 556.5H422.5" stroke="#000" stroke-width="2" fill="none"/>
<path d="M63 556.5H67" stroke="#000" stroke-width="2"/>
<text x="46" y="562.3" font-size="14" textLength="8.6" lengthAdjust="spacingAndGlyphs">0</text>
<path d="M63 503.8H67" stroke="#000" stroke-width="2"/>
<text x="34.6" y="509.6" font-size="14" textLength="22" lengthAdjust="spacingAndGlyphs">0.5</text>
<path d="M63 451.0H67" stroke="#000" stroke-width="2"/>
<text x="46" y="456.8" font-size="14" textLength="8.6" lengthAdjust="spacingAndGlyphs">1</text>
<path d="M63 398.2H67" stroke="#000" stroke-width="2"/>
<text x="34.6" y="404.1" font-size="14" textLength="22" lengthAdjust="spacingAndGlyphs">1.5</text>
<path d="M63 345.5H67" stroke="#000" stroke-width="2"/>
<text x="46" y="351.3" font-size="14" textLength="8.6" lengthAdjust="spacingAndGlyphs">2</text>
<path d="M63 292.8H67" stroke="#000" stroke-width="2"/>
<text x="34.6" y="298.6" font-size="14" textLength="22" lengthAdjust="spacingAndGlyphs">2.5</text>
<rect x="93" y="552.3" width="38" height="4.2" fill="#000"/>
<path d="M112.0 552.3V551.8M107.0 551.8H117.0" stroke="#000" stroke-width="1.5"/>
<rect x="182" y="552.3" width="38" height="4.2" fill="#000"/>
<path d="M201.0 552.3V550.8M196.0 550.8H206.0" stroke="#000" stroke-width="1.5"/>
<rect x="271" y="547.5" width="36.5" height="9.0" fill="#000"/>
<path d="M289.25 547.5V536.5M284.25 536.5H294.25" stroke="#000" stroke-width="1.5"/>
<rect x="359" y="437.3" width="37" height="119.2" fill="#000"/>
<path d="M377.5 437.3V345.5M372.5 345.5H382.5" stroke="#000" stroke-width="1.5"/>
<path d="M294 340.8V322.8H377.4V340" stroke="#888" stroke-width="1.3" fill="none"/>
<text x="330.7" y="316.53" font-size="26.5" stroke="#000" stroke-width="0.5">*</text>
<text transform="translate(20,528) rotate(-90)" font-size="16" textLength="228" lengthAdjust="spacingAndGlyphs">Tetramer<tspan dy="-6" font-size="10">+</tspan><tspan dy="6"> of CD8</tspan><tspan dy="-6" font-size="10">+</tspan><tspan dy="6"> T cells </tspan><tspan font-weight="normal">(%)</tspan></text>
<text x="5" y="597" font-size="16.3" textLength="55" lengthAdjust="spacingAndGlyphs">T cells:</text>
<text x="31.5" y="625" font-size="16.3" textLength="28.5" lengthAdjust="spacingAndGlyphs">DC:</text>
<text x="86" y="596.5" font-size="16.3" textLength="41.5" lengthAdjust="spacingAndGlyphs">CD27</text>
<text x="127.5" y="590.0" font-size="8.5" textLength="11.5" lengthAdjust="spacingAndGlyphs" font-weight="normal">-/-</text>
<text x="174.6" y="596.5" font-size="16.3" textLength="41.5" lengthAdjust="spacingAndGlyphs">CD27</text>
<text x="216" y="590.0" font-size="8.5" textLength="11.5" lengthAdjust="spacingAndGlyphs" font-weight="normal">-/-</text>
<text x="85" y="624" font-size="16.3" textLength="56" lengthAdjust="spacingAndGlyphs">control</text>
<text x="172.5" y="624" font-size="16.3" textLength="58.5" lengthAdjust="spacingAndGlyphs">CD70tg</text>
<text x="279.5" y="597" font-size="16.3" textLength="27" lengthAdjust="spacingAndGlyphs">WT</text>
<text x="264" y="624" font-size="16.3" textLength="56.5" lengthAdjust="spacingAndGlyphs">control</text>
<text x="368" y="597" font-size="16.3" textLength="26.5" lengthAdjust="spacingAndGlyphs">WT</text>
<text x="352.5" y="624" font-size="16.3" textLength="58" lengthAdjust="spacingAndGlyphs">CD70tg</text>
<text x="0" y="672.5" font-size="24" textLength="17.5" lengthAdjust="spacingAndGlyphs">C</text>
<path d="M71.5 659.5V976.5M66.5 971.5H513.2V976" stroke="#000" stroke-width="2" fill="none"/>
<path d="M66.5 660.2H71.5" stroke="#000" stroke-width="2"/>
<path d="M66.5 971.5H71.5" stroke="#000" stroke-width="2"/>
<text x="49.3" y="976.5" font-size="14" textLength="8.5" lengthAdjust="spacingAndGlyphs">0</text>
<path d="M66.5 927.0H71.5" stroke="#000" stroke-width="2"/>
<text x="49.3" y="932.0" font-size="14" textLength="8.5" lengthAdjust="spacingAndGlyphs">5</text>
<path d="M66.5 882.5H71.5" stroke="#000" stroke-width="2"/>
<text x="41.5" y="887.5" font-size="14" textLength="16.3" lengthAdjust="spacingAndGlyphs">10</text>
<path d="M66.5 838.0H71.5" stroke="#000" stroke-width="2"/>
<text x="41.5" y="843.0" font-size="14" textLength="16.3" lengthAdjust="spacingAndGlyphs">15</text>
<path d="M66.5 793.5H71.5" stroke="#000" stroke-width="2"/>
<text x="41.5" y="798.5" font-size="14" textLength="16.3" lengthAdjust="spacingAndGlyphs">20</text>
<path d="M66.5 749.0H71.5" stroke="#000" stroke-width="2"/>
<text x="41.5" y="754.0" font-size="14" textLength="16.3" lengthAdjust="spacingAndGlyphs">25</text>
<path d="M66.5 704.5H71.5" stroke="#000" stroke-width="2"/>
<text x="41.5" y="709.5" font-size="14" textLength="16.3" lengthAdjust="spacingAndGlyphs">30</text>
<path d="M66.5 660.0H71.5" stroke="#000" stroke-width="2"/>
<text x="41.5" y="665.0" font-size="14" textLength="16.3" lengthAdjust="spacingAndGlyphs">35</text>
<path d="M218.3 971.5V976.5" stroke="#000" stroke-width="2"/>
<path d="M365.2 971.5V976.5" stroke="#000" stroke-width="2"/>
<text x="66.05" y="999.8" font-size="14" textLength="8.5" lengthAdjust="spacingAndGlyphs">0</text>
<text x="212.9" y="999.8" font-size="14" textLength="8.5" lengthAdjust="spacingAndGlyphs">5</text>
<text x="355.6" y="999.8" font-size="14" textLength="16.8" lengthAdjust="spacingAndGlyphs">10</text>
<text x="504.8" y="999.8" font-size="14" textLength="16.8" lengthAdjust="spacingAndGlyphs">15</text>
<text x="109.5" y="1029.5" font-size="15.5" textLength="396" lengthAdjust="spacingAndGlyphs">Day after secondary OVA peptide challenge + LPS</text>
<text transform="translate(14.3,927.3) rotate(-90)" font-size="16" textLength="235" lengthAdjust="spacingAndGlyphs">Tetramer<tspan dy="-6" font-size="10">+</tspan><tspan dy="6"> of  CD8</tspan><tspan dy="-6" font-size="10">+</tspan><tspan dy="6"> T cells </tspan><tspan font-weight="normal">(%)</tspan></text>
<path d="M130.0 969.5L188.6 967.2L247.8 968.9L306.6 969.6" stroke="#000" stroke-width="2" fill="none" stroke-linejoin="round"/>
<path d="M130.0 969.0L188.6 962.0L247.8 968.5L306.6 968.8" stroke="#000" stroke-width="2" fill="none" stroke-linejoin="round"/>
<path d="M130.0 967.5L188.6 963.0L247.8 960.7L306.6 960.8L365.5 960.6L483.5 970.5" stroke="#000" stroke-width="2" fill="none" stroke-linejoin="round"/>
<path d="M130.0 956.5L188.6 776.9L247.8 782.7L306.6 869.3L365.5 888.9L483.5 952.2" stroke="#000" stroke-width="2" fill="none" stroke-linejoin="round"/>
<path d="M188.6 963.0V955.4M184.0 955.4H193.2" stroke="#000" stroke-width="1.7"/>
<path d="M247.8 960.7V947.4M243.2 947.4H252.4" stroke="#000" stroke-width="1.7"/>
<path d="M306.6 960.8V945.1M302.0 945.1H311.2" stroke="#000" stroke-width="1.7"/>
<path d="M365.5 960.6V948.5M360.9 948.5H370.1" stroke="#000" stroke-width="1.7"/>
<path d="M188.6 776.9V676.0M184.0 676.0H193.2" stroke="#000" stroke-width="1.7"/>
<path d="M247.8 782.7V716.3M243.2 716.3H252.4" stroke="#000" stroke-width="1.7"/>
<path d="M306.6 869.3V848.0M302.0 848.0H311.2" stroke="#000" stroke-width="1.7"/>
<path d="M365.5 888.9V872.7M360.9 872.7H370.1" stroke="#000" stroke-width="1.7"/>
<circle cx="130.0" cy="956.5" r="8.2" fill="#000"/>
<circle cx="188.6" cy="776.9" r="8.2" fill="#000"/>
<circle cx="247.8" cy="782.7" r="8.2" fill="#000"/>
<circle cx="306.6" cy="869.3" r="8.2" fill="#000"/>
<circle cx="365.5" cy="888.9" r="8.2" fill="#000"/>
<circle cx="483.5" cy="952.2" r="8.2" fill="#000"/>
<path d="M130.0 958.2L139.0 976.8L121.0 976.8Z" fill="#000" stroke="#000" stroke-width="0" stroke-linejoin="miter"/>
<path d="M188.6 953.8L197.6 972.2L179.6 972.2Z" fill="#000" stroke="#000" stroke-width="0" stroke-linejoin="miter"/>
<path d="M247.8 951.5L256.8 970.0L238.8 970.0Z" fill="#000" stroke="#000" stroke-width="0" stroke-linejoin="miter"/>
<path d="M306.6 951.5L315.6 970.0L297.6 970.0Z" fill="#000" stroke="#000" stroke-width="0" stroke-linejoin="miter"/>
<path d="M365.5 951.4L374.5 969.9L356.5 969.9Z" fill="#000" stroke="#000" stroke-width="0" stroke-linejoin="miter"/>
<path d="M483.5 961.2L492.5 979.8L474.5 979.8Z" fill="#000" stroke="#000" stroke-width="0" stroke-linejoin="miter"/>
<rect x="122.5" y="962.0" width="15" height="15" fill="#fff" stroke="#000" stroke-width="1.8"/>
<rect x="181.1" y="959.7" width="15" height="15" fill="#fff" stroke="#000" stroke-width="1.8"/>
<rect x="240.3" y="961.4" width="15" height="15" fill="#fff" stroke="#000" stroke-width="1.8"/>
<rect x="299.1" y="962.1" width="15" height="15" fill="#fff" stroke="#000" stroke-width="1.8"/>
<path d="M130.0 962.2L136.8 976.8L123.2 976.8Z" fill="#fff" stroke="#000" stroke-width="1.8" stroke-linejoin="miter"/>
<path d="M188.6 955.2L195.3 969.8L181.8 969.8Z" fill="#fff" stroke="#000" stroke-width="1.8" stroke-linejoin="miter"/>
<path d="M247.8 961.8L254.6 976.2L241.1 976.2Z" fill="#fff" stroke="#000" stroke-width="1.8" stroke-linejoin="miter"/>
<path d="M306.6 962.0L313.4 976.5L299.9 976.5Z" fill="#fff" stroke="#000" stroke-width="1.8" stroke-linejoin="miter"/>
<text x="186.08" y="672.87" font-size="23.5" stroke="#000" stroke-width="0.5">*</text>
<text x="239.38" y="713.17" font-size="23.5" stroke="#000" stroke-width="0.5">*</text>
<text x="251.48" y="713.17" font-size="23.5" stroke="#000" stroke-width="0.5">*</text>
<text x="293.68" y="843.47" font-size="23.5" stroke="#000" stroke-width="0.5">*</text>
<text x="306.03" y="843.47" font-size="23.5" stroke="#000" stroke-width="0.5">*</text>
<text x="318.38" y="843.47" font-size="23.5" stroke="#000" stroke-width="0.5">*</text>
<text x="351.78" y="871.17" font-size="23.5" stroke="#000" stroke-width="0.5">*</text>
<text x="363.93" y="871.17" font-size="23.5" stroke="#000" stroke-width="0.5">*</text>
<text x="376.08" y="871.17" font-size="23.5" stroke="#000" stroke-width="0.5">*</text>
<text x="393" y="670.6" font-size="15" textLength="46" lengthAdjust="spacingAndGlyphs">T cells</text>
<text x="477" y="670.6" font-size="15" textLength="22" lengthAdjust="spacingAndGlyphs">DC</text>
<circle cx="379.8" cy="693.4" r="4.9" fill="#000"/>
<path d="M380.3 710.8L384.7 720.3L375.9 720.3Z" fill="#fff" stroke="#000" stroke-width="1.7"/>
<path d="M380.3 733.4L385.6 745.2L374.9 745.2Z" fill="#000"/>
<rect x="376.6" y="759.8" width="8" height="8.8" fill="#fff" stroke="#000" stroke-width="1.7"/>
<text x="401" y="697.9" font-size="15" textLength="23.5" lengthAdjust="spacingAndGlyphs">WT</text>
<text x="401" y="721.6" font-size="15" textLength="38" lengthAdjust="spacingAndGlyphs">CD27</text>
<text x="439" y="716.4" font-size="8.5" textLength="11" lengthAdjust="spacingAndGlyphs" font-weight="normal">-/-</text>
<text x="401" y="745.1" font-size="15" textLength="23.5" lengthAdjust="spacingAndGlyphs">WT</text>
<text x="401" y="767.6" font-size="15" textLength="38" lengthAdjust="spacingAndGlyphs">CD27</text>
<text x="439" y="762.4" font-size="8.5" textLength="11" lengthAdjust="spacingAndGlyphs" font-weight="normal">-/-</text>
<text x="463.5" y="697.1" font-size="15" textLength="52" lengthAdjust="spacingAndGlyphs">CD70tg</text>
<text x="463.5" y="721.6" font-size="15" textLength="52" lengthAdjust="spacingAndGlyphs">CD70tg</text>
<text x="463.5" y="745.1" font-size="15" textLength="51" lengthAdjust="spacingAndGlyphs">control</text>
<text x="463.5" y="767.6" font-size="15" textLength="51" lengthAdjust="spacingAndGlyphs">control</text>
</svg>
</body></html>
